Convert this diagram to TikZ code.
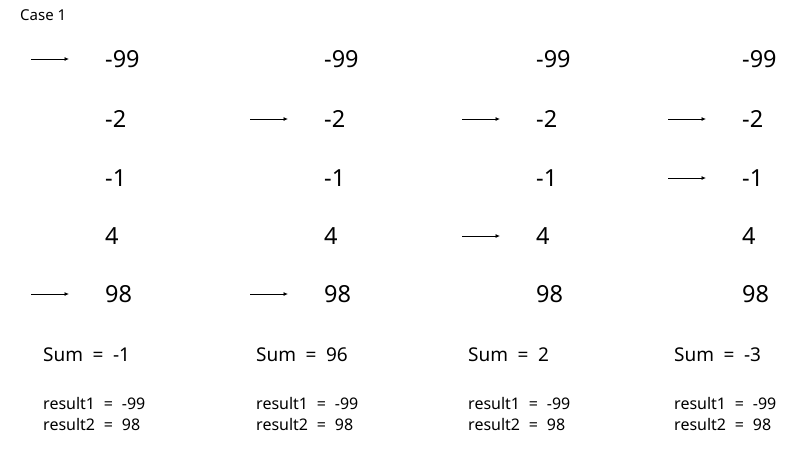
\documentclass[tikz,border=0pt]{standalone}
\usepackage{fontspec}
\setmainfont{Noto Sans}
\usetikzlibrary{arrows.meta}
\newcommand\mywidesum{\fontsize{19}{22}\selectfont\spaceskip=0.5em\relax}
\newcommand\mywideres{\fontsize{16}{21}\selectfont\spaceskip=0.55em\relax}
\begin{document}
\begin{tikzpicture}[x=1pt,y=-1pt,
  num/.style={anchor=west,inner sep=0pt,font=\fontsize{23.5}{26}\selectfont},
  sumtxt/.style={anchor=west,inner sep=0pt,font=\mywidesum},
  restxt/.style={anchor=north west,inner sep=0pt,align=left,font=\mywideres},
  arr/.style={-{Latex[length=4.5pt,width=4pt]},line width=0.8pt}]
\useasboundingbox[fill=white] (0,0) rectangle (801,451);
\node[anchor=west,inner sep=0pt,font=\fontsize{15}{17}\selectfont] (case) at (20,15) {Case 1};
% columns
\foreach \c/\x in {1/105,2/324,3/536,4/742}{
  \node[num] (n\c1) at (\x,59) {-99};
  \node[num] (n\c2) at (\x,119) {-2};
  \node[num] (n\c3) at (\x,178) {-1};
  \node[num] (n\c4) at (\x,236) {4};
  \node[num] (n\c5) at (\x,294) {98};
}
\node[sumtxt] (s1) at (43,355) {Sum = -1};
\node[sumtxt] (s2) at (256,355) {Sum = 96};
\node[sumtxt] (s3) at (468,355) {Sum = 2};
\node[sumtxt] (s4) at (674,355) {Sum = -3};
\foreach \c/\x in {1/43,2/256,3/468,4/674}{
  \node[restxt] (r\c) at (\x,397) {result1 = -99\\result2 = 98};
}
% arrows
\foreach \n in {n11,n15,n22,n25,n32,n34,n42,n43}{
  \draw[arr] ([xshift=-74pt]\n.west) -- ([xshift=-36pt]\n.west);
}
\end{tikzpicture}
\end{document}
